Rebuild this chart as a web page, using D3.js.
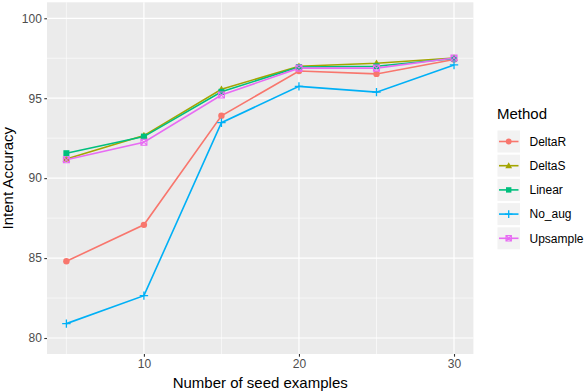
<!DOCTYPE html>
<html><head><meta charset="utf-8">
<script src="https://cdn.jsdelivr.net/npm/d3@7"></script>
<style>body{margin:0;background:#fff}svg{display:block;font-family:"Liberation Sans",Arial,sans-serif}</style>
</head><body><svg id="c" width="586" height="392"></svg>
<script>
const seeds = [5, 10, 15, 20, 25, 30];
const methods = ["DeltaR", "DeltaS", "Linear", "No_aug", "Upsample"];
const deltaR   = [84.8, 87.08, 93.9, 96.7, 96.52, 97.42];
const deltaS   = [91.2, 92.66, 95.56, 97.0, 97.19, 97.52];
const linear   = [91.56, 92.6, 95.4, 96.95, 97.0, 97.48];
const noAug    = [80.9, 82.65, 93.47, 95.74, 95.38, 97.08];
const upsample = [91.15, 92.25, 95.2, 96.88, 96.88, 97.52];
const xTicks = [10, 20, 30];
const yTicks = [80, 85, 90, 95, 100];
const colors = ["#F8766D", "#A3A500", "#00BF7D", "#00B0F6", "#E76BF3"];
const seriesVals = [deltaR, deltaS, linear, noAug, upsample];

const svg = d3.select("#c");
const L = 47, R = 473.4, T = 2.3, B = 354;
const x = d3.scaleLinear().domain([3.75, 31.25]).range([L, R]);
const y = d3.scaleLinear().domain([79, 101]).range([B, T]);

svg.append("rect").attr("x", L).attr("y", T).attr("width", R - L).attr("height", B - T).attr("fill", "#EBEBEB");
const g = svg.append("g");
// minor grid
[5, 15, 25].forEach(v => g.append("line").attr("x1", x(v)).attr("x2", x(v)).attr("y1", T).attr("y2", B).attr("stroke", "#fff").attr("stroke-width", 0.6));
[82.5, 87.5, 92.5, 97.5].forEach(v => g.append("line").attr("y1", y(v)).attr("y2", y(v)).attr("x1", L).attr("x2", R).attr("stroke", "#fff").attr("stroke-width", 0.6));
xTicks.forEach(v => g.append("line").attr("x1", x(v)).attr("x2", x(v)).attr("y1", T).attr("y2", B).attr("stroke", "#fff").attr("stroke-width", 1.2));
yTicks.forEach(v => g.append("line").attr("y1", y(v)).attr("y2", y(v)).attr("x1", L).attr("x2", R).attr("stroke", "#fff").attr("stroke-width", 1.2));

// axes
const xa = svg.append("g").attr("transform", `translate(0,${B})`)
  .call(d3.axisBottom(x).tickValues(xTicks).tickSize(2.7).tickPadding(2.5));
const ya = svg.append("g").attr("transform", `translate(${L},0)`)
  .call(d3.axisLeft(y).tickValues(yTicks).tickSize(2.7).tickPadding(2.5));
[xa, ya].forEach(a => {
  a.select(".domain").remove();
  a.selectAll(".tick line").attr("stroke", "#333").attr("stroke-width", 1.1);
  a.selectAll(".tick text").attr("fill", "#4D4D4D").attr("font-size", 12).attr("font-family", "Liberation Sans, Arial, sans-serif");
});

svg.append("text").attr("x", (L + R) / 2).attr("y", 388).attr("text-anchor", "middle").attr("font-size", 15).text("Number of seed examples");
svg.append("text").attr("transform", `translate(13,${(T + B) / 2}) rotate(-90)`).attr("text-anchor", "middle").attr("font-size", 15).text("Intent Accuracy");

function marker(sel, i, cx, cy, s) {
  const c = colors[i];
  if (i === 0) sel.append("circle").attr("cx", cx).attr("cy", cy).attr("r", 3.2 * s).attr("fill", c);
  else if (i === 1) {
    const h = 3.8 * s;
    sel.append("path").attr("d", `M${cx},${cy - h}L${cx + h},${cy + h * 0.75}L${cx - h},${cy + h * 0.75}Z`).attr("fill", c);
  } else if (i === 2) sel.append("rect").attr("x", cx - 3 * s).attr("y", cy - 3 * s).attr("width", 6 * s).attr("height", 6 * s).attr("fill", c);
  else if (i === 3) {
    const h = 4.2 * s;
    sel.append("path").attr("d", `M${cx - h},${cy}H${cx + h}M${cx},${cy - h}V${cy + h}`).attr("stroke", c).attr("stroke-width", 1.3).attr("fill", "none");
  } else {
    const h = 3 * s;
    sel.append("path").attr("d", `M${cx - h},${cy - h}H${cx + h}V${cy + h}H${cx - h}Z M${cx - h},${cy - h}L${cx + h},${cy + h}M${cx + h},${cy - h}L${cx - h},${cy + h}`)
      .attr("stroke", c).attr("stroke-width", 1.1).attr("fill", "none");
  }
}

const line = d3.line().x((d, i) => x(seeds[i])).y(d => y(d));
seriesVals.forEach((vals, i) => {
  svg.append("path").attr("d", line(vals)).attr("fill", "none").attr("stroke", colors[i]).attr("stroke-width", 1.6);
});
seriesVals.forEach((vals, i) => {
  const gg = svg.append("g");
  vals.forEach((v, j) => marker(gg, i, x(seeds[j]), y(v), 1));
});

// legend
svg.append("text").attr("x", 497).attr("y", 119).attr("font-size", 15).text("Method");
methods.forEach((m, i) => {
  const cy = 141.5 + i * 24.2;
  svg.append("rect").attr("x", 497.5).attr("y", cy - 11).attr("width", 22.5).attr("height", 22).attr("fill", "#F2F2F2");
  svg.append("line").attr("x1", 499).attr("x2", 518.5).attr("y1", cy).attr("y2", cy).attr("stroke", colors[i]).attr("stroke-width", 1.6);
  marker(svg, i, 508.7, cy, 0.9);
  svg.append("text").attr("x", 529.5).attr("y", cy + 4.3).attr("font-size", 12).text(m);
});
</script></body></html>
